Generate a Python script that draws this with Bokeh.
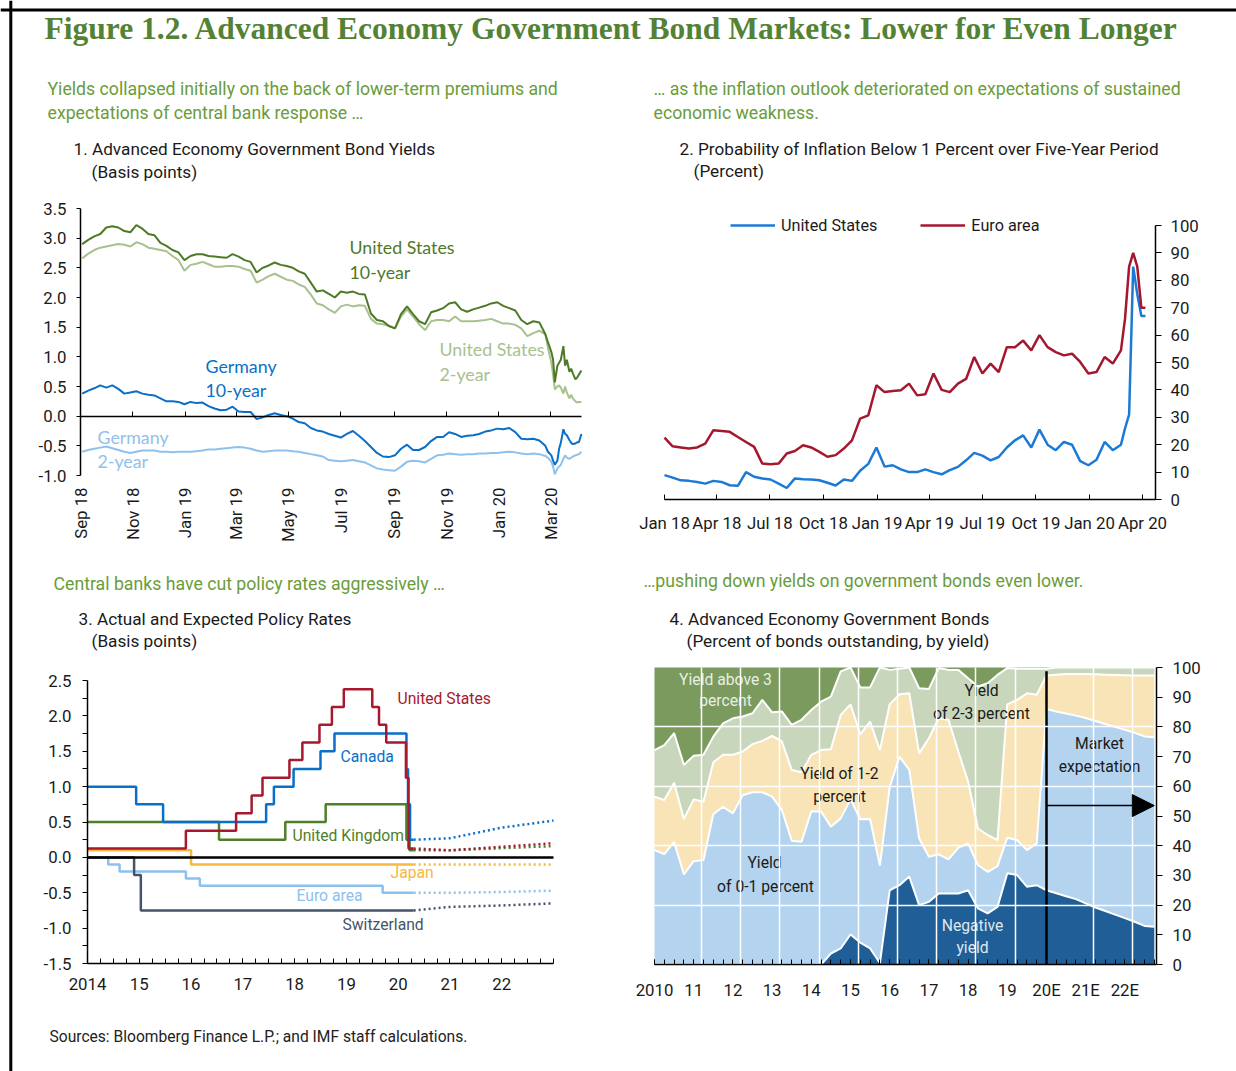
import numpy as np
import pandas as pd
from bokeh.plotting import figure
from bokeh.models import (Range1d, LinearAxis, FixedTicker, Legend, LegendItem, Arrow,
                          NormalHead, Grid, Span, PrintfTickFormatter)
from bokeh.core.properties import value
from bokeh.embed import file_html
from bokeh.resources import INLINE

# ---------------- Panel 1: Advanced economy government bond yields ----------------
p1_dates = pd.DatetimeIndex(list(pd.date_range("2018-09-03", periods=78, freq="7D")) + list(pd.to_datetime([
    "2020-02-27", "2020-03-02", "2020-03-04", "2020-03-06", "2020-03-09", "2020-03-11", "2020-03-13",
    "2020-03-16", "2020-03-18", "2020-03-20", "2020-03-23", "2020-03-25", "2020-03-27", "2020-03-30",
    "2020-04-01", "2020-04-03", "2020-04-06"])))
p1_us10 = [2.90, 2.97, 3.03, 3.07, 3.18, 3.20, 3.18, 3.12, 3.10, 3.22,
           3.16, 3.07, 3.05, 2.92, 2.87, 2.80, 2.76, 2.63, 2.70, 2.73,
           2.73, 2.70, 2.69, 2.68, 2.67, 2.73, 2.69, 2.63, 2.60, 2.42,
           2.50, 2.54, 2.59, 2.55, 2.53, 2.50, 2.44, 2.40, 2.25, 2.10,
           2.12, 2.06, 2.00, 2.10, 2.08, 2.10, 2.06, 2.05, 1.73, 1.62,
           1.60, 1.52, 1.48, 1.72, 1.85, 1.72, 1.60, 1.55, 1.75, 1.78,
           1.82, 1.90, 1.92, 1.80, 1.76, 1.80, 1.83, 1.86, 1.90, 1.92,
           1.86, 1.82, 1.78, 1.62, 1.55, 1.60, 1.58, 1.38,
           1.25, 1.08, 0.95, 0.57, 0.85, 0.90, 0.95, 1.18, 0.85, 0.95, 0.75, 0.80, 0.72, 0.62, 0.65, 0.70, 0.77]
p1_us2 = [2.66, 2.74, 2.80, 2.84, 2.86, 2.88, 2.90, 2.89, 2.86, 2.93,
          2.90, 2.84, 2.82, 2.80, 2.78, 2.70, 2.63, 2.45, 2.55, 2.57,
          2.60, 2.56, 2.52, 2.52, 2.53, 2.53, 2.52, 2.48, 2.45, 2.25,
          2.30, 2.36, 2.40, 2.35, 2.30, 2.28, 2.22, 2.18, 2.05, 1.90,
          1.87, 1.80, 1.74, 1.85, 1.88, 1.85, 1.87, 1.86, 1.64, 1.56,
          1.55, 1.52, 1.48, 1.68, 1.80, 1.68, 1.55, 1.45, 1.60, 1.62,
          1.62, 1.60, 1.68, 1.60, 1.60, 1.60, 1.61, 1.62, 1.64, 1.60,
          1.56, 1.56, 1.54, 1.48, 1.35, 1.40, 1.44, 1.38,
          1.15, 0.90, 0.70, 0.45, 0.50, 0.52, 0.48, 0.38, 0.50, 0.40, 0.30, 0.36, 0.30, 0.25, 0.23, 0.24, 0.24]
p1_de10 = [0.38, 0.43, 0.47, 0.52, 0.48, 0.52, 0.46, 0.38, 0.40, 0.42,
           0.38, 0.36, 0.35, 0.30, 0.25, 0.25, 0.24, 0.20, 0.24, 0.22,
           0.23, 0.17, 0.13, 0.10, 0.11, 0.16, 0.08, 0.07, 0.07, -0.05,
           -0.02, 0.02, 0.05, 0.02, 0.00, -0.04, -0.10, -0.12, -0.20, -0.24,
           -0.26, -0.30, -0.33, -0.36, -0.30, -0.25, -0.33, -0.42, -0.52, -0.62,
           -0.68, -0.69, -0.66, -0.55, -0.48, -0.57, -0.57, -0.52, -0.42, -0.35,
           -0.35, -0.27, -0.30, -0.35, -0.33, -0.32, -0.30, -0.26, -0.24, -0.21,
           -0.22, -0.20, -0.27, -0.38, -0.39, -0.38, -0.41, -0.50,
           -0.60, -0.66, -0.75, -0.82, -0.75, -0.55, -0.45, -0.22, -0.30, -0.32, -0.40, -0.45, -0.47, -0.46, -0.44, -0.44, -0.30]
p1_de2 = [-0.60, -0.57, -0.55, -0.53, -0.51, -0.54, -0.57, -0.60, -0.62, -0.60,
          -0.58, -0.58, -0.58, -0.60, -0.60, -0.61, -0.60, -0.60, -0.60, -0.59,
          -0.58, -0.56, -0.56, -0.55, -0.54, -0.53, -0.52, -0.53, -0.55, -0.58,
          -0.60, -0.59, -0.58, -0.58, -0.58, -0.59, -0.60, -0.62, -0.64, -0.66,
          -0.68, -0.74, -0.75, -0.76, -0.75, -0.74, -0.76, -0.78, -0.83, -0.88,
          -0.90, -0.91, -0.92, -0.85, -0.77, -0.75, -0.76, -0.78, -0.72, -0.66,
          -0.65, -0.63, -0.64, -0.65, -0.64, -0.64, -0.63, -0.63, -0.62, -0.62,
          -0.61, -0.60, -0.61, -0.63, -0.64, -0.63, -0.64, -0.67,
          -0.70, -0.77, -0.85, -0.98, -0.88, -0.85, -0.82, -0.72, -0.66, -0.70, -0.72, -0.70, -0.68, -0.66, -0.65, -0.64, -0.60]
p1_tick_dates = ["2018-09-01", "2018-11-01", "2019-01-01", "2019-03-01", "2019-05-01",
                 "2019-07-01", "2019-09-01", "2019-11-01", "2020-01-01", "2020-03-01"]
p1_tick_labels = ["Sep 18", "Nov 18", "Jan 19", "Mar 19", "May 19",
                  "Jul 19", "Sep 19", "Nov 19", "Jan 20", "Mar 20"]
p1_yticks = [-1.0, -0.5, 0.0, 0.5, 1.0, 1.5, 2.0, 2.5, 3.0, 3.5]

# ---------------- Panel 2: probability of inflation below 1 percent ----------------
p2_dates = pd.DatetimeIndex(list(pd.date_range("2018-01-01", periods=57, freq="14D")) + list(pd.to_datetime([
    "2020-03-02", "2020-03-09", "2020-03-16", "2020-03-23", "2020-03-30", "2020-04-06"])))
p2_us = [8.9, 8.0, 7.0, 6.8, 6.4, 5.8, 6.8, 6.4, 5.2, 5.0,
         10.0, 8.3, 7.7, 7.3, 5.8, 4.2, 7.7, 7.4, 7.3, 7.0,
         6.1, 5.1, 7.3, 6.8, 10.5, 13.0, 19.0, 12.0, 12.5, 11.0,
         10.0, 10.0, 11.0, 10.0, 9.2, 10.7, 11.9, 14.3, 17.0, 16.0,
         14.3, 15.5, 19.0, 21.6, 23.4, 19.0, 25.5, 20.0, 18.0, 21.0,
         20.0, 14.0, 12.5, 14.5, 21.0, 18.0, 20.0,
         26.0, 31.0, 85.0, 75.0, 67.0, 67.0]
p2_ea = [22.6, 19.4, 19.0, 18.6, 19.0, 20.4, 25.3, 25.0, 24.7, 22.8,
         21.0, 19.2, 13.1, 12.9, 13.1, 16.8, 17.7, 19.8, 19.0, 17.4,
         15.6, 16.2, 18.6, 21.6, 29.5, 30.7, 41.7, 39.2, 39.6, 39.9,
         42.3, 38.0, 38.4, 46.0, 40.0, 39.2, 42.3, 44.0, 52.0, 46.0,
         49.6, 46.5, 55.6, 55.6, 58.0, 54.4, 60.0, 55.6, 53.8, 52.6,
         53.2, 50.2, 46.0, 46.5, 52.0, 49.6, 54.4,
         66.0, 85.0, 90.0, 85.0, 70.0, 70.0]
p2_tick_dates = ["2018-01-01", "2018-04-01", "2018-07-01", "2018-10-01", "2019-01-01",
                 "2019-04-01", "2019-07-01", "2019-10-01", "2020-01-01", "2020-04-01"]
p2_tick_labels = ["Jan 18", "Apr 18", "Jul 18", "Oct 18", "Jan 19",
                  "Apr 19", "Jul 19", "Oct 19", "Jan 20", "Apr 20"]
p2_yticks = [0, 10, 20, 30, 40, 50, 60, 70, 80, 90, 100]

# ---------------- Panel 3: actual and expected policy rates ----------------
p3_us_t = [2014.0, 2015.9, 2016.87, 2017.17, 2017.38, 2017.9, 2018.15, 2018.48, 2018.72, 2018.95,
           2019.5, 2019.63, 2019.77, 2020.15, 2020.2, 2020.3]
p3_us_v = [0.125, 0.375, 0.625, 0.875, 1.125, 1.375, 1.625, 1.875, 2.125, 2.375,
           2.125, 1.875, 1.625, 1.125, 0.125, 0.125]
p3_ca_t = [2014.0, 2014.94, 2015.46, 2017.45, 2017.6, 2017.98, 2018.5, 2018.77, 2020.16, 2020.19, 2020.23, 2020.3]
p3_ca_v = [1.0, 0.75, 0.5, 0.75, 1.0, 1.25, 1.5, 1.75, 1.25, 0.75, 0.25, 0.25]
p3_uk_t = [2014.0, 2016.54, 2017.82, 2018.6, 2020.16, 2020.22, 2020.3]
p3_uk_v = [0.5, 0.25, 0.5, 0.75, 0.25, 0.1, 0.1]
p3_jp_t = [2014.0, 2016.0, 2020.3]
p3_jp_v = [0.1, -0.1, -0.1]
p3_ea_t = [2014.0, 2014.4, 2014.62, 2015.9, 2016.17, 2019.7, 2020.3]
p3_ea_v = [0.0, -0.1, -0.2, -0.3, -0.4, -0.5, -0.5]
p3_ch_t = [2014.0, 2014.9, 2015.03, 2020.3]
p3_ch_v = [0.0, -0.25, -0.75, -0.75]
p3_exp_t = [2020.3, 2021.0, 2022.0, 2023.0]
p3_us_exp = [0.125, 0.10, 0.15, 0.20]
p3_ca_exp = [0.25, 0.27, 0.42, 0.52]
p3_uk_exp = [0.10, 0.10, 0.13, 0.16]
p3_jp_exp = [-0.10, -0.10, -0.10, -0.10]
p3_ea_exp = [-0.50, -0.50, -0.49, -0.47]
p3_ch_exp = [-0.75, -0.70, -0.68, -0.65]
p3_years = [2014, 2015, 2016, 2017, 2018, 2019, 2020, 2021, 2022]
p3_year_labels = ["2014", "15", "16", "17", "18", "19", "20", "21", "22"]
p3_yticks = [-1.5, -1.0, -0.5, 0.0, 0.5, 1.0, 1.5, 2.0, 2.5]

# ---------------- Panel 4: government bonds by yield (cumulative shares, percent) ----------------
p4_x = [2010 + q * 0.25 for q in range(52)]
p4_below0 = [0.0] * 18 + [3.7, 5.4, 10.1, 7.4, 5.4, 0.5, 25.0, 26.7, 29.6, 20.0, 21.1, 23.9, 23.9, 23.9,
                          25.0, 18.9, 17.2, 19.4, 30.7, 30.1, 26.2, 26.7, 25.0, 24.0, 23.0, 22.0, 20.6,
                          19.2, 18.0, 16.8, 15.6, 14.4, 13.0, 12.7]
p4_below1 = [38.5, 37.2, 41.3, 30.3, 34.8, 35.2, 50.6, 53.1, 50.9, 57.0,
             58.0, 58.0, 56.5, 52.0, 41.7, 41.3, 51.5, 51.5, 46.4, 49.2,
             55.6, 48.9, 49.0, 33.3, 59.7, 70.0, 65.5, 42.5, 36.3, 37.1,
             35.4, 39.3, 40.8, 33.5, 31.2, 33.1, 42.7, 41.9, 38.5, 40.8,
             86.0, 85.2, 84.5, 83.8, 83.0, 82.0, 81.0, 80.0, 79.0, 78.0,
             76.8, 76.5]
p4_below2 = [56.5, 55.4, 61.2, 49.0, 55.6, 54.8, 68.1, 70.6, 70.6, 71.7,
             74.2, 75.3, 77.0, 75.1, 65.5, 64.7, 70.6, 72.2, 72.5, 84.0,
             87.6, 77.5, 81.8, 72.2, 87.6, 91.0, 91.3, 71.1, 76.2, 82.9,
             82.4, 71.7, 61.6, 45.8, 43.6, 41.9, 87.6, 89.1, 91.3, 90.8,
             97.3, 97.6, 97.8, 97.8, 97.8, 97.7, 97.6, 97.5, 97.4, 97.3,
             97.3, 97.3]
p4_below3 = [72.2, 73.9, 77.9, 67.2, 70.3, 70.6, 76.7, 81.2, 82.9, 83.5,
             84.6, 89.1, 84.9, 85.2, 80.7, 82.4, 85.7, 88.5, 90.2, 98.7,
             100.0, 93.3, 93.3, 100.0, 99.2, 99.6, 100.0, 93.0, 92.8, 99.8,
             99.2, 99.2, 96.4, 93.6, 94.7, 97.5, 99.8, 99.6, 99.6, 99.6,
             99.6, 100.0, 100.0, 100.0, 100.0, 100.0, 100.0, 100.0, 100.0, 100.0,
             100.0, 100.0]
p4_total = [100.0] * 52
p4_forecast_start = 2020.0
p4_forecast_end = 2022.75
p4_arrow_level = 53.5
p4_marker_top = 98.7
p4_years = list(range(2010, 2023))
p4_year_labels = ["2010", "11", "12", "13", "14", "15", "16", "17", "18", "19", "20E", "21E", "22E"]
p4_gridyears = [2011.2, 2012.2, 2013.2, 2014.2, 2015.2, 2016.2, 2017.2, 2018.2, 2019.2,
                2021.2, 2022.2]
p4_yticks = [0, 10, 20, 30, 40, 50, 60, 70, 80, 90, 100]

# ---------------- styling ----------------
NARROW = "Roboto, sans-serif"
SERIF = "'Liberation Serif', serif"
CALI = "Lato, sans-serif"
INK = "#1a1a1a"
TITLE_GREEN = "#548235"
SUB_GREEN = "#6a9c3a"

C_US10, C_US2, C_DE10, C_DE2 = "#4e7a27", "#a8c18f", "#0b6fc6", "#8fc1ec"
C2_US, C2_EA = "#1c7ad6", "#a3182f"
C3 = {"us": "#a6192e", "ca": "#0a6fc9", "uk": "#4f7f2a", "jp": "#f5b940", "ea": "#8dc1ed", "ch": "#44546a"}
C4 = ["#1f5e96", "#b3d3ef", "#f9e4b8", "#c8d6bc", "#7a9a5e"]

SUB, TTL, TICK, LAB = 17.7, 17.2, 16.8, 15.7

W, H = 1236, 1071
X0, X1, Y0, Y1 = 0, W, 0, H


def lin_range(va, pa, vb, pb, lo, hi):
    k = (vb - va) / (pb - pa)
    return Range1d(start=va + (lo - pa) * k, end=va + (hi - pa) * k)


def xr_(va, pa, vb, pb):
    return lin_range(va, pa, vb, pb, X0, X1)


def yr_(va, pa, vb, pb):
    return lin_range(va, pa, vb, pb, Y1, Y0)


def at_px(r, px):
    return r.start + (px - X0) / (X1 - X0) * (r.end - r.start)


def ms(s):
    return int(pd.Timestamp(s).value // 10**6)


p = figure(width=W, height=H, x_range=Range1d(X0, X1), y_range=Range1d(Y1, Y0),
           x_axis_location=None, y_axis_location=None, output_backend="svg",
           toolbar_location=None, min_border=0, outline_line_color=None)
p.center = [r for r in p.center if not isinstance(r, Grid)]
p.background_fill_color = "white"
p.border_fill_color = "white"

r1x = xr_(ms("2018-09-01"), 80, ms("2020-03-01"), 550)
r1y = yr_(3.5, 208, -1.0, 475)
r2x = xr_(ms("2018-01-01"), 664, ms("2020-04-01"), 1142)
r2y = yr_(100, 225, 0, 499)
r3x = xr_(2014, 87, 2023, 553)
r3y = yr_(2.5, 680, -1.5, 963)
r4x = xr_(2010, 654, 2020, 1046)
r4y = yr_(100, 667, 0, 964)
p.extra_x_ranges = {"p1x": r1x, "p2x": r2x, "p3x": r3x, "p4x": r4x}
p.extra_y_ranges = {"p1y": r1y, "p2y": r2y, "p3y": r3y, "p4y": r4y}


def txt(x, y, s, size, color=INK, font=NARROW, align="left", baseline="middle", style="normal"):
    p.text(x=[x], y=[y], text=[s], text_font=value(font), text_font_size=value(f"{size}px"),
           text_color=color, text_align=align, text_baseline=baseline, text_font_style=style)


def axis(xn, yn, side, loc, ticks, bounds, minor=None, overrides=None, fmt=None, size=TICK,
         tin=0, tout=0, mtin=0, mtout=0, standoff=8, line=True, labels=True, orient="horizontal",
         lw=1.5):
    ax = LinearAxis(x_range_name=xn, y_range_name=yn, fixed_location=loc, bounds=bounds,
                    ticker=FixedTicker(ticks=ticks, minor_ticks=minor or []))
    if fmt:
        ax.formatter = PrintfTickFormatter(format=fmt)
    if overrides:
        ax.major_label_overrides = overrides
    ax.major_label_text_font = NARROW
    ax.major_label_text_font_size = f"{size}px"
    ax.major_label_text_color = INK if labels else None
    ax.major_label_standoff = standoff
    ax.major_label_orientation = orient
    ax.axis_line_color = "black" if line else None
    ax.axis_line_width = lw
    ax.major_tick_line_color = "black" if (tin or tout) else None
    ax.minor_tick_line_color = "black" if (mtin or mtout) else None
    ax.major_tick_line_width = 1
    ax.minor_tick_line_width = 1
    ax.major_tick_in, ax.major_tick_out = tin, tout
    ax.minor_tick_in, ax.minor_tick_out = mtin, mtout
    p.add_layout(ax, side)
    return ax


# ---------------- page frame and headings ----------------
p.add_layout(Span(location=9.5, dimension="width", line_color="black", line_width=3))
p.add_layout(Span(location=10.3, dimension="height", line_color="black", line_width=3))

txt(44, 28, "Figure 1.2. Advanced Economy Government Bond Markets: Lower for Even Longer", 31.5,
    color=TITLE_GREEN, font=SERIF, style="bold")

txt(47, 88, "Yields collapsed initially on the back of lower-term premiums and", SUB, color=SUB_GREEN)
txt(47, 112, "expectations of central bank response \u2026", SUB, color=SUB_GREEN)
txt(73, 148, "1. Advanced Economy Government Bond Yields", TTL)
txt(91, 171, "(Basis points)", TTL)

txt(653, 88, "\u2026 as the inflation outlook deteriorated on expectations of sustained", SUB, color=SUB_GREEN)
txt(653, 112, "economic weakness.", SUB, color=SUB_GREEN)
txt(679, 148, "2. Probability of Inflation Below 1 Percent over Five-Year Period", TTL)
txt(693, 170, "(Percent)", TTL)

txt(53, 583, "Central banks have cut policy rates aggressively \u2026", SUB, color=SUB_GREEN)
txt(78, 618, "3. Actual and Expected Policy Rates", TTL)
txt(91, 640, "(Basis points)", TTL)

txt(643, 580, "\u2026pushing down yields on government bonds even lower.", SUB, color=SUB_GREEN)
txt(669, 618, "4. Advanced Economy Government Bonds", TTL)
txt(686, 640, "(Percent of bonds outstanding, by yield)", TTL)

txt(49, 1036, "Sources: Bloomberg Finance L.P.; and IMF staff calculations.", 15.6, color="#222222")

# ---------------- Panel 1 ----------------
kw1 = dict(x_range_name="p1x", y_range_name="p1y")
p.line(p1_dates, p1_us2, line_color=C_US2, line_width=2, **kw1)
p.line(p1_dates, p1_us10, line_color=C_US10, line_width=2, **kw1)
p.line(p1_dates, p1_de2, line_color=C_DE2, line_width=2, **kw1)
p.line(p1_dates, p1_de10, line_color=C_DE10, line_width=2, **kw1)

p1_ticks = [ms(d) for d in p1_tick_dates]
p1_end = ms(p1_dates[-1])
axis("p1x", "p1y", "left", ms("2018-09-01"), p1_yticks, (-1.0, 3.5), fmt="%.1f", tout=4, standoff=10)
axis("p1x", "p1y", "below", 0.0, p1_ticks, (p1_ticks[0], p1_end), tin=5, labels=False)
axis("p1x", "p1y", "below", -1.0, p1_ticks, (p1_ticks[0], p1_end),
     overrides=dict(zip(p1_ticks, p1_tick_labels)), line=False, standoff=12,
     orient=float(np.pi / 2))

txt(349, 246, "United States", 17.8, color=C_US10, font=CALI)
txt(349, 271, "10-year", 17.8, color=C_US10, font=CALI)
txt(439, 348, "United States", 17.8, color=C_US2, font=CALI)
txt(439, 373, "2-year", 17.8, color=C_US2, font=CALI)
txt(205, 365, "Germany", 17.8, color=C_DE10, font=CALI)
txt(205, 389, "10-year", 17.8, color=C_DE10, font=CALI)
txt(97, 436, "Germany", 17.8, color=C_DE2, font=CALI)
txt(97, 460, "2-year", 17.8, color=C_DE2, font=CALI)

# ---------------- Panel 2 ----------------
kw2 = dict(x_range_name="p2x", y_range_name="p2y")
l2_us = p.line(p2_dates, p2_us, line_color=C2_US, line_width=2.5, **kw2)
l2_ea = p.line(p2_dates, p2_ea, line_color=C2_EA, line_width=2.5, **kw2)
p2_right = at_px(r2x, 1155)
p2_ticks = [ms(d) for d in p2_tick_dates]
axis("p2x", "p2y", "right", p2_right, p2_yticks, (0, 100), tout=6, standoff=9)
axis("p2x", "p2y", "below", 0, p2_ticks, (p2_ticks[0], p2_right),
     overrides=dict(zip(p2_ticks, p2_tick_labels)), tin=5, standoff=13)

legend = Legend(items=[LegendItem(label="United States", renderers=[l2_us]),
                       LegendItem(label="Euro area", renderers=[l2_ea])],
                location=(730, H - 235), orientation="horizontal", glyph_width=45, glyph_height=20,
                label_height=20, label_standoff=6, spacing=43, padding=0, margin=0,
                border_line_color=None, background_fill_alpha=0,
                label_text_font=NARROW, label_text_font_size="16.2px", label_text_color=INK)
p.add_layout(legend)

# ---------------- Panel 3 ----------------
kw3 = dict(x_range_name="p3x", y_range_name="p3y")
series3 = [("ea", p3_ea_t, p3_ea_v, p3_ea_exp), ("ch", p3_ch_t, p3_ch_v, p3_ch_exp),
           ("jp", p3_jp_t, p3_jp_v, p3_jp_exp), ("uk", p3_uk_t, p3_uk_v, p3_uk_exp),
           ("ca", p3_ca_t, p3_ca_v, p3_ca_exp), ("us", p3_us_t, p3_us_v, p3_us_exp)]
for key, t, v, e in series3:
    p.step(t, v, mode="after", line_color=C3[key], line_width=2.5, **kw3)
    p.line(p3_exp_t, e, line_color=C3[key], line_width=2.5, line_dash="2 3", **kw3)

p3_minor = [2014 + q * 0.25 for q in range(37)]
axis("p3x", "p3y", "left", 2014, p3_yticks, (-1.5, 2.5),
     minor=[-1.25, -0.75, -0.25, 0.25, 0.75, 1.25, 1.75, 2.25], fmt="%.1f",
     tout=5, mtout=5, standoff=11)
axis("p3x", "p3y", "below", -1.5, p3_years, (2014, 2023), minor=p3_minor,
     overrides=dict(zip(p3_years, p3_year_labels)), tin=5, mtin=5, standoff=14)
axis("p3x", "p3y", "below", 0.0, [], (2014, 2023), labels=False, lw=2.5)

txt(397, 698, "United States", LAB, color=C3["us"])
txt(340, 756, "Canada", LAB, color=C3["ca"])
txt(292, 835, "United Kingdom", LAB, color=C3["uk"])
txt(390, 872, "Japan", LAB, color=C3["jp"])
txt(296, 895, "Euro area", LAB, color=C3["ea"])
txt(342, 924, "Switzerland", LAB, color=C3["ch"])

# ---------------- Panel 4 ----------------
kw4 = dict(x_range_name="p4x", y_range_name="p4y")
bands = [(None, p4_below0), (p4_below0, p4_below1), (p4_below1, p4_below2),
         (p4_below2, p4_below3), (p4_below3, p4_total)]
for (lo, hi), col in zip(bands, C4):
    if lo is None:
        p.varea(x=p4_x, y1=0, y2=hi, fill_color=col, **kw4)
    else:
        p.varea(x=p4_x, y1=lo, y2=hi, fill_color=col, **kw4)
for b in (p4_below0, p4_below1, p4_below2, p4_below3):
    p.line(p4_x, b, line_color="white", line_width=2, **kw4)

g4v = Grid(dimension=0, ticker=FixedTicker(ticks=p4_gridyears), x_range_name="p4x", y_range_name="p4y",
           bounds=(2010, p4_forecast_end), cross_bounds=(0.5, 100), grid_line_color="white",
           grid_line_width=1.5, level="annotation")
g4h = Grid(dimension=1, ticker=FixedTicker(ticks=[20, 40, 60, 80]), x_range_name="p4x", y_range_name="p4y",
           bounds=(0, 100), cross_bounds=(2010, p4_forecast_end), grid_line_color="white",
           grid_line_width=1.5, level="annotation")
p.add_layout(g4v)
p.add_layout(g4h)

p.segment(x0=[p4_forecast_start], y0=[0], x1=[p4_forecast_start], y1=[p4_marker_top],
          line_color="black", line_width=2.5, **kw4)
p.add_layout(Arrow(x_start=p4_forecast_start, y_start=p4_arrow_level, x_end=p4_forecast_end,
                   y_end=p4_arrow_level, line_color="black", line_width=1.5,
                   end=NormalHead(size=22, fill_color="black", line_color="black"), **kw4))

p4_right = at_px(r4x, 1156)
p4_minor = [2010 + q * 0.25 for q in range(52)]
axis("p4x", "p4y", "right", p4_right, p4_yticks, (0, 100), tout=6, standoff=10)
axis("p4x", "p4y", "below", 0, p4_years, (2010, p4_right), minor=p4_minor,
     overrides=dict(zip(p4_years, p4_year_labels)), tin=5, mtin=5, standoff=15)

txt(725, 679, "Yield above 3", LAB, color="#e9efe2", align="center")
txt(725, 700, "percent", LAB, color="#e9efe2", align="center")
txt(981, 690, "Yield", LAB, align="center")
txt(981, 713, "of 2-3 percent", LAB, align="center")
txt(839, 773, "Yield of 1-2", LAB, align="center")
txt(839, 796, "percent", LAB, align="center")
txt(764, 862, "Yield", LAB, align="center")
txt(765, 886, "of 0-1 percent", LAB, align="center")
txt(972, 925, "Negative", LAB, color="#dfe8f2", align="center")
txt(972, 947, "yield", LAB, color="#dfe8f2", align="center")
txt(1099, 743, "Market", LAB, align="center")
txt(1099, 766, "expectation", LAB, align="center")

open("out.html", "w").write(file_html(p, INLINE))
